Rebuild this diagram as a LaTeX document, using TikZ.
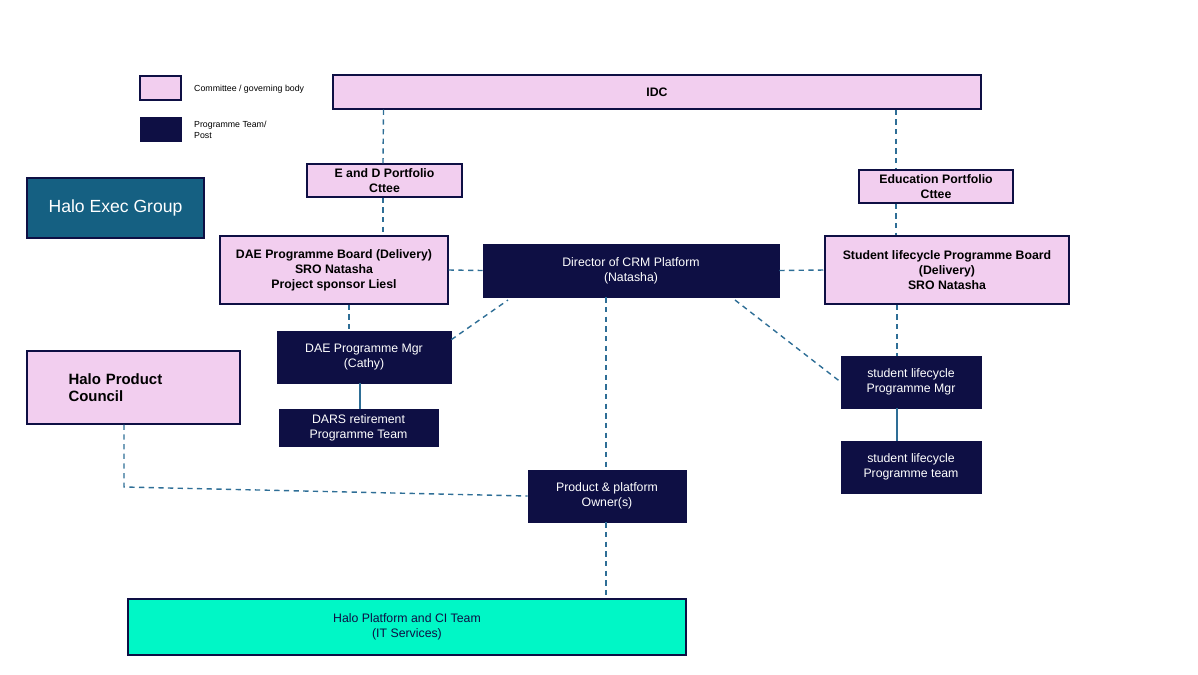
\documentclass[tikz,border=0pt]{standalone}
\usepackage{fontspec}
\setmainfont{Liberation Sans}
\usetikzlibrary{positioning,calc}

\definecolor{pinkfill}{HTML}{F2CEEF}
\definecolor{navyfill}{HTML}{0E0F44}
\definecolor{tealfill}{HTML}{156082}
\definecolor{aquafill}{HTML}{00F7C6}
\definecolor{linkblue}{HTML}{2E6E96}

\tikzset{
  pinkbox/.style={draw=navyfill, thick, fill=pinkfill, inner sep=1pt, align=center, font=\fontsize{7}{8.5}\selectfont\bfseries},
  navybox/.style={draw=navyfill, fill=navyfill, text=white, inner sep=1pt, align=center, font=\fontsize{7}{8.5}\selectfont},
  link/.style={draw=linkblue, thick, dashed, dash pattern=on 3pt off 2.5pt},
  solidlink/.style={draw=linkblue, thick},
}

\begin{document}
\begin{tikzpicture}[x=0.02cm, y=-0.02cm]
  \useasboundingbox (0,0) rectangle (1198,674);

  % legend
  \node[pinkbox, minimum width=0.82cm, minimum height=0.48cm] (lega) at (160.5,88) {};
  \node[anchor=west, font=\fontsize{5}{6}\selectfont] at (188,89) {Committee / governing body};
  \node[navybox, minimum width=0.82cm, minimum height=0.48cm] (legb) at (160.5,129) {};
  \node[anchor=west, align=left, font=\fontsize{5}{6}\selectfont] at (188,130) {Programme Team/\\Post};

  % committees
  \node[pinkbox, minimum width=12.96cm, minimum height=0.68cm] (idc) at (657,92) {IDC};
  \node[pinkbox, minimum width=3.1cm, minimum height=0.66cm] (edp) at (384.5,180.5) {E and D Portfolio\\Cttee};
  \node[pinkbox, minimum width=3.08cm, minimum height=0.66cm] (edu) at (936,186.5) {Education Portfolio\\Cttee};
  \node[draw=navyfill, thick, fill=tealfill, text=white, minimum width=3.54cm, minimum height=1.2cm,
        font=\fontsize{10}{12}\selectfont] (exec) at (115.5,208) {Halo Exec Group};
  \node[pinkbox, minimum width=4.56cm, minimum height=1.36cm] (daeb) at (334,270) {DAE Programme Board (Delivery)\\SRO Natasha\\Project sponsor Liesl};
  \node[pinkbox, minimum width=4.88cm, minimum height=1.36cm] (slb) at (947,270) {Student lifecycle Programme Board\\(Delivery)\\SRO Natasha};
  \node[pinkbox, minimum width=4.26cm, minimum height=1.46cm, align=left, text width=2.6cm,
        font=\fontsize{8.5}{10}\selectfont\bfseries] (hpc) at (133.5,387.5) {Halo Product\\Council};

  % posts and teams
  \node[navybox, minimum width=5.92cm, minimum height=1.06cm] (dir) at (631,270.5) {Director of CRM Platform\\(Natasha)};
  \node[navybox, minimum width=3.48cm, minimum height=1.04cm] (daem) at (364,357) {DAE Programme Mgr\\(Cathy)};
  \node[navybox, minimum width=3.18cm, minimum height=0.74cm] (dars) at (358.5,427.5) {DARS retirement\\Programme Team};
  \node[navybox, minimum width=2.8cm, minimum height=1.04cm] (slm) at (911,382) {student lifecycle\\Programme Mgr};
  \node[navybox, minimum width=2.8cm, minimum height=1.04cm] (slt) at (911,467) {student lifecycle\\Programme team};
  \node[navybox, minimum width=3.16cm, minimum height=1.04cm] (own) at (607,496) {Product \& platform\\Owner(s)};
  \node[draw=navyfill, thick, fill=aquafill, text=navyfill, minimum width=11.16cm, minimum height=1.12cm,
        align=center, font=\fontsize{7}{8.5}\selectfont] (plat) at (407,627) {Halo Platform and CI Team\\(IT Services)};

  % connectors
  \draw[link] (idc.south -| edp.north) ++(-1,0) -- (edp.north -| 383,0);
  \draw[link] (896,0 |- idc.south) -- (896,0 |- edu.north);
  \draw[link] (383,0 |- edp.south) -- (383,0 |- daeb.north);
  \draw[link] (896,0 |- edu.south) -- (896,0 |- slb.north);
  \draw[link] (daeb.east) -- (dir.west);
  \draw[link] (dir.east) -- (slb.west);
  \draw[link] (349,0 |- daeb.south) -- (349,0 |- daem.north);
  \draw[link] (daem.north east) ++(0,9) -- (508,300);
  \draw[solidlink] (360,0 |- daem.south) -- (360,0 |- dars.north);
  \draw[link] (897,0 |- slb.south) -- (897,0 |- slm.north);
  \draw[solidlink] (897,0 |- slm.south) -- (897,0 |- slt.north);
  \draw[link] (735,300) -- (slm.west);
  \draw[link] (606,0 |- dir.south) -- (606,0 |- own.north);
  \draw[link] (124,0 |- hpc.south) -- (124,487) -- (own.west);
  \draw[link] (606,0 |- own.south) -- (606,0 |- plat.north);
\end{tikzpicture}
\end{document}
